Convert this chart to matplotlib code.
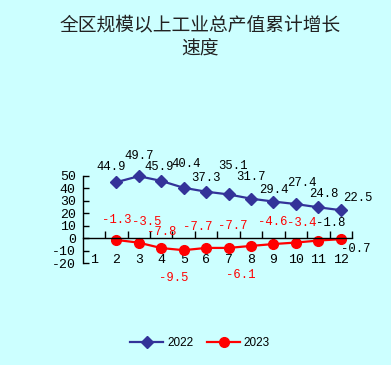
import matplotlib
matplotlib.use("Agg")
import matplotlib.pyplot as plt
from matplotlib.ticker import FixedLocator

plt.rcParams["axes.unicode_minus"] = False

# ---- data ----
months = [1, 2, 3, 4, 5, 6, 7, 8, 9, 10, 11, 12]
x_2022 = [2, 3, 4, 5, 6, 7, 8, 9, 10, 11, 12]
y_2022 = [44.9, 49.7, 45.9, 40.4, 37.3, 35.1, 31.7, 29.4, 27.4, 24.8, 22.5]
x_2023 = [2, 3, 4, 5, 6, 7, 8, 9, 10, 11, 12]
y_2023 = [-1.3, -3.5, -7.8, -9.5, -7.7, -7.7, -6.1, -4.6, -3.4, -1.8, -0.7]
yticks = [-20, -10, 0, 10, 20, 30, 40, 50]
title = "全区规模以上工业总产值累计增长\n速度"
series_names = ["2022", "2023"]

# ---- label placement (pixels) ----
off_2022 = [(-5, 15), (0, 20), (-2, 14), (2, 24), (0, 14), (4, 28), (0, 22),
            (0, 12), (6, 21), (6, 13), (17, 12)]
off_2023 = [(0, 20), (8, 21), (1, 16), (-10, -28), (-8, 21), (4, 22), (-10, -29),
            (-1, 22), (6, 20), (12, 18), (15, -10)]
col_2023 = ["red"] * 9 + ["black", "black"]

BG = "#CCFFFF"
BLUE = "#333399"
RED = "#FF0000"
NUM_FONT = "Liberation Mono"
NUM_SIZE = 8.8

fig = plt.figure(figsize=(3.91, 3.65), dpi=100, facecolor=BG)
ax = fig.add_axes([82.7 / 391, 1 - 263.3 / 365, (352 - 82.7) / 391, (263.3 - 175.8) / 365])
ax.set_facecolor("none")

fig.text(0.512, 1 - 37 / 365, title, ha="center", va="center", fontsize=13.5,
         family=["Noto Sans CJK SC", "DejaVu Sans"], color="#222222", linespacing=1.25)

l1, = ax.plot(x_2022, y_2022, color=BLUE, lw=1.6, marker="D", markersize=6.5,
              markerfacecolor=BLUE, markeredgecolor=BLUE, label=series_names[0], clip_on=False)
l2, = ax.plot(x_2023, y_2023, color=RED, lw=1.6, marker="o", markersize=7,
              markerfacecolor=RED, markeredgecolor=RED, label=series_names[1], clip_on=False)

for xv, yv, (dx, dy) in zip(x_2022, y_2022, off_2022):
    ax.annotate(f"{yv}", (xv, yv), xytext=(dx, dy), textcoords="offset pixels",
                ha="center", va="center", fontsize=NUM_SIZE, family=NUM_FONT, color="black",
                annotation_clip=False)
for xv, yv, (dx, dy), c in zip(x_2023, y_2023, off_2023, col_2023):
    ax.annotate(f"{yv}", (xv, yv), xytext=(dx, dy), textcoords="offset pixels",
                ha="center", va="center", fontsize=NUM_SIZE, family=NUM_FONT, color=c,
                annotation_clip=False)

ax.set_xlim(0.5, 12.5)
ax.set_ylim(-20, 50)
for s in ["top", "right"]:
    ax.spines[s].set_visible(False)
ax.spines["bottom"].set_position(("data", 0))
ax.spines["left"].set_linewidth(1.0)
ax.spines["bottom"].set_linewidth(1.0)

ax.set_yticks(yticks)
ax.set_yticklabels([str(v) for v in yticks], family=NUM_FONT, fontsize=9.5)
ax.tick_params(axis="y", direction="in", length=4, width=1, pad=5)

ax.set_xticks(months)
ax.set_xticklabels([str(m) for m in months], family=NUM_FONT, fontsize=9.5)
ax.tick_params(axis="x", which="major", length=0, pad=11)
ax.xaxis.set_minor_locator(FixedLocator([m + 0.5 for m in months]))
ax.tick_params(axis="x", which="minor", direction="in", length=5, width=1)

fig.legend(handles=[l1, l2], loc="center", bbox_to_anchor=(0.512, 1 - 343 / 365),
           ncol=2, frameon=False, handlelength=2.8, columnspacing=1.2,
           handletextpad=0.3, prop={"family": "Liberation Sans", "size": 8.5})

fig.savefig("out.png", dpi=100, facecolor=BG)
